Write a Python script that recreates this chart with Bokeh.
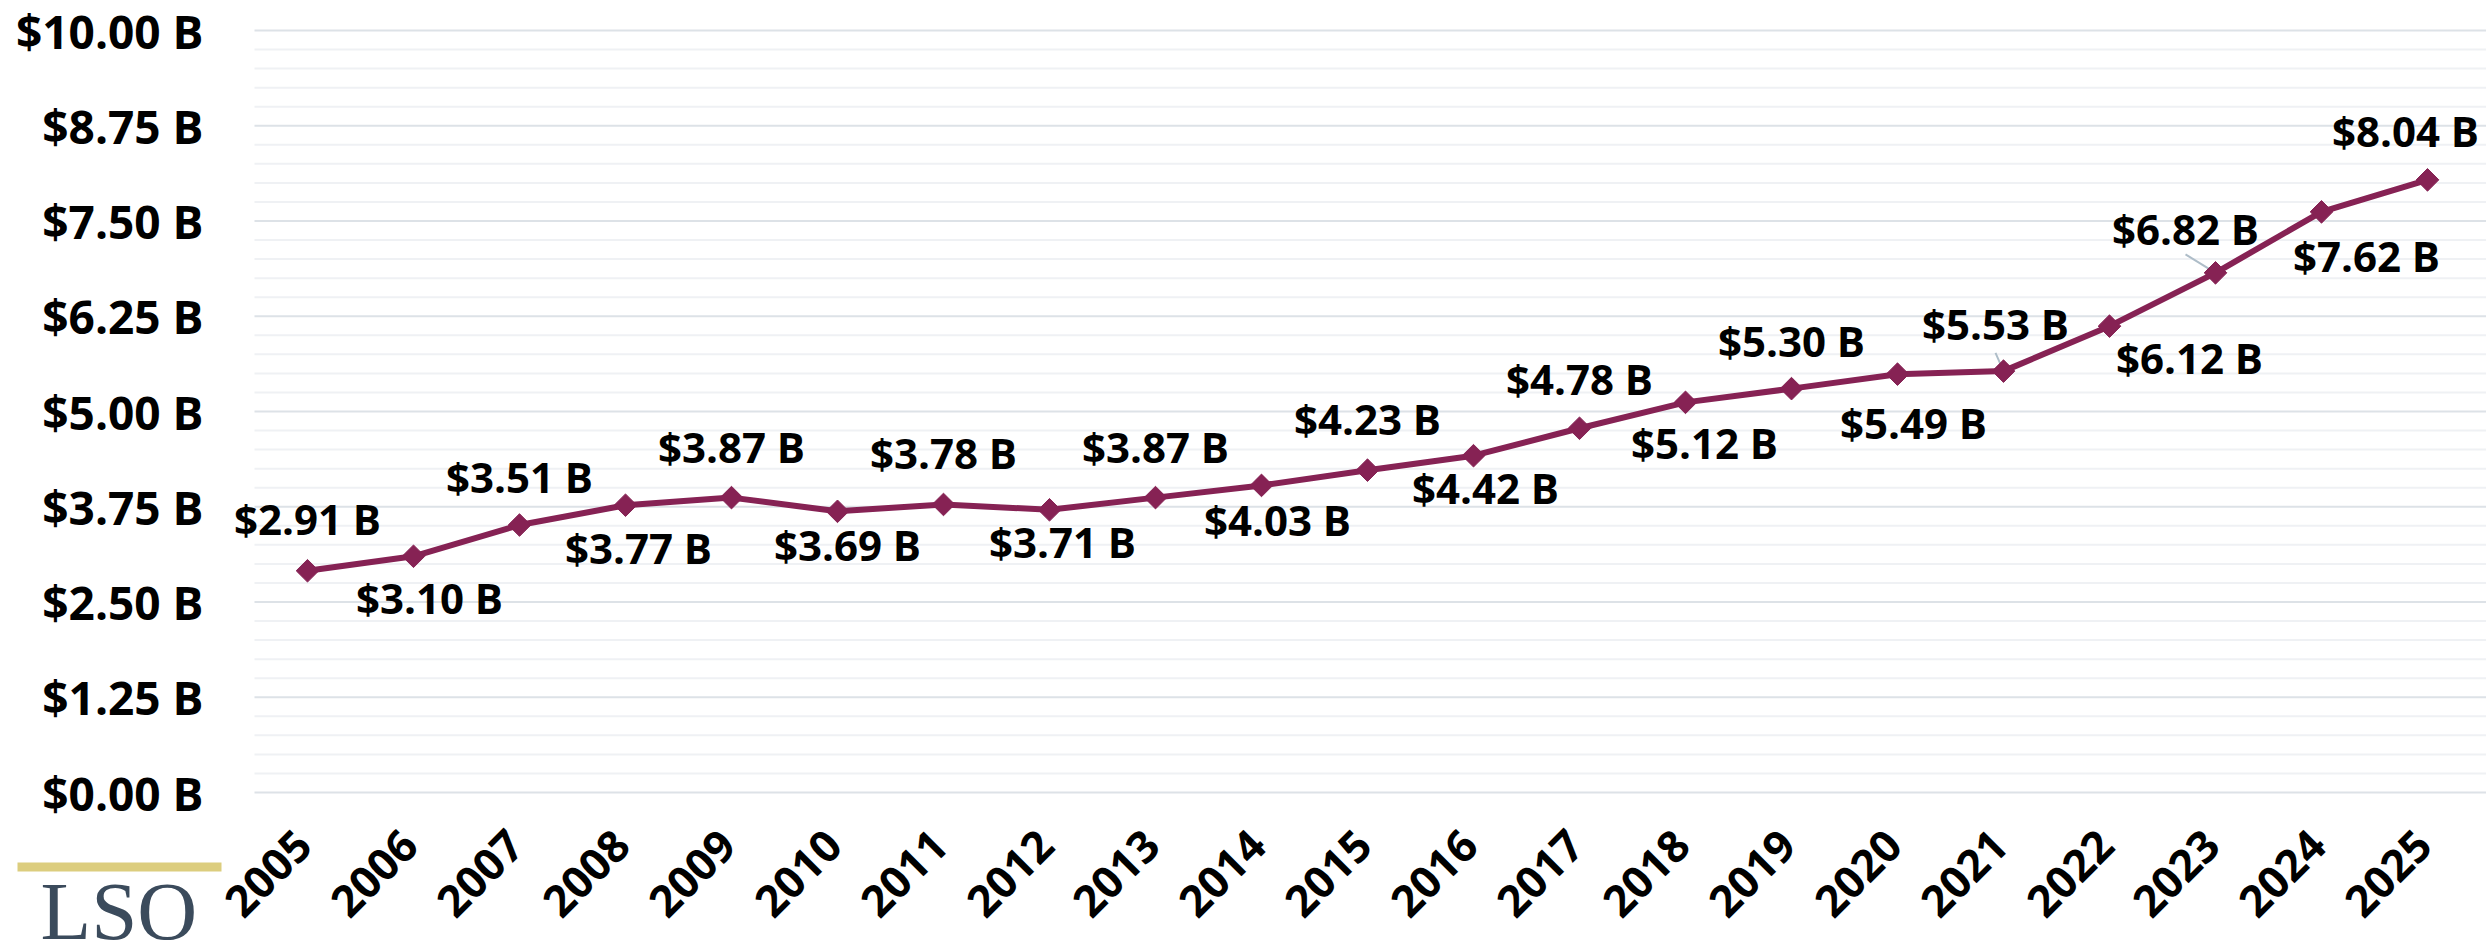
import math
from bokeh.plotting import figure
from bokeh.models import ColumnDataSource, Range1d, Label, LabelSet
from bokeh.core.properties import value
from bokeh.embed import file_html
from bokeh.resources import INLINE

years = [2005, 2006, 2007, 2008, 2009, 2010, 2011, 2012, 2013, 2014, 2015,
         2016, 2017, 2018, 2019, 2020, 2021, 2022, 2023, 2024, 2025]
values = [2.91, 3.10, 3.51, 3.77, 3.87, 3.69, 3.78, 3.71, 3.87, 4.03, 4.23,
          4.42, 4.78, 5.12, 5.30, 5.49, 5.53, 6.12, 6.82, 7.62, 8.04]
y_ticks = [0, 1.25, 2.5, 3.75, 5.0, 6.25, 7.5, 8.75, 10.0]
y_tick_labels = ["$0.00 B", "$1.25 B", "$2.50 B", "$3.75 B", "$5.00 B",
                 "$6.25 B", "$7.50 B", "$8.75 B", "$10.00 B"]
y_minor_ticks = [0.25, 0.5, 0.75, 1.0, 1.5, 1.75, 2.0, 2.25, 2.75, 3.0, 3.25, 3.5,
                 4.0, 4.25, 4.5, 4.75, 5.25, 5.5, 5.75, 6.0, 6.5, 6.75, 7.0, 7.25,
                 7.75, 8.0, 8.25, 8.5, 9.0, 9.25, 9.5, 9.75]
x_tick_labels = [str(y) for y in years]

# label placement (pixel offsets from each point, +down), layout only
lab_dx = [0, 16, 0, 13, 0, 10, 0, 13, 0, 16, 0, 12, 0, 19, 0, 16, -8, 80, -30, 45, -22]
lab_dy = [-52, 41, -49, 42, -51, 33, -52, 32, -51, 34, -52, 32, -50, 40, -48, 48, -48, 31, -44, 44, -49]

FONT = "Open Sans"
LINE = "#862254"

W, H = 2486, 940
# plot-area geometry in pixels
PX_PER_YEAR = 106.0
PX_PER_B = 76.2
X_FIRST_PX = 307.0     # pixel of first year
Y_ZERO_PX = 792.0      # pixel of $0
AREA_LEFT = years[0] - 0.5

X_MIN = years[0] - X_FIRST_PX / PX_PER_YEAR
X_MAX = years[0] + (W - X_FIRST_PX) / PX_PER_YEAR
Y_MIN = -(H - Y_ZERO_PX) / PX_PER_B
Y_MAX = Y_ZERO_PX / PX_PER_B


def px2x(px):
    return X_MIN + px / PX_PER_YEAR


def py2y(py):
    return Y_MAX - py / PX_PER_B


p = figure(width=W, height=H, output_backend="svg", toolbar_location=None,
           x_range=Range1d(X_MIN, X_MAX), y_range=Range1d(Y_MIN, Y_MAX),
           min_border=0)
p.outline_line_color = None
p.background_fill_color = "white"
p.border_fill_color = "white"
p.xaxis.visible = False
p.yaxis.visible = False
p.grid.visible = False

# horizontal grid lines over the plot area
p.segment(x0=[AREA_LEFT] * len(y_minor_ticks), x1=[X_MAX] * len(y_minor_ticks),
          y0=y_minor_ticks, y1=y_minor_ticks, line_color="#eff1f4", line_width=2)
p.segment(x0=[AREA_LEFT] * len(y_ticks), x1=[X_MAX] * len(y_ticks),
          y0=y_ticks, y1=y_ticks, line_color="#dde2e7", line_width=2)

# y tick labels
ysrc = ColumnDataSource(dict(x=[AREA_LEFT] * len(y_ticks), y=y_ticks, t=y_tick_labels))
p.add_layout(LabelSet(x="x", y="y", text="t", source=ysrc, x_offset=-51,
                      text_align="right", text_baseline="middle",
                      text_font=value(FONT), text_font_style="bold",
                      text_font_size="46px", text_color="black"))

# x tick labels (rotated)
xsrc = ColumnDataSource(dict(x=years, y=[0] * len(years), t=x_tick_labels))
p.add_layout(LabelSet(x="x", y="y", text="t", source=xsrc, x_offset=-4, y_offset=-45,
                      angle=math.pi / 4, text_align="right", text_baseline="middle",
                      text_font=value(FONT), text_font_style="bold",
                      text_font_size="44px", text_color="black"))

src = ColumnDataSource(dict(
    x=years, y=values,
    t=["${:.2f} B".format(v) for v in values],
    dx=lab_dx, dy=[-d for d in lab_dy],
))

# leader lines for shifted labels
lead_idx = [16, 18]
lead_frac = [0.38, 0.42]
p.segment(x0=[years[i] for i in lead_idx], y0=[values[i] for i in lead_idx],
          x1=[years[i] + lab_dx[i] / PX_PER_YEAR for i in lead_idx],
          y1=[values[i] - lab_dy[i] * f / PX_PER_B for i, f in zip(lead_idx, lead_frac)],
          line_color="#aebdc8", line_width=2)

p.line("x", "y", source=src, line_color=LINE, line_width=6)
p.scatter("x", "y", source=src, marker="square", angle=math.pi / 4, size=16,
          fill_color=LINE, line_color=LINE)
p.add_layout(LabelSet(x="x", y="y", text="t", source=src, x_offset="dx", y_offset="dy",
                      text_align="center", text_baseline="middle",
                      text_font=value(FONT), text_font_style="bold",
                      text_font_size="42px", text_color="black"))

# logo
p.quad(left=[px2x(17)], right=[px2x(221)], top=[py2y(862)], bottom=[py2y(871)],
       fill_color="#dccd7e", line_color=None)
p.add_layout(Label(x=px2x(40), y=py2y(910), text="LSO",
                   text_font="Liberation Serif", text_font_size="83px",
                   text_color="#3b4b5c", text_baseline="alphabetic"))

open("out.html", "w").write(file_html(p, INLINE))
